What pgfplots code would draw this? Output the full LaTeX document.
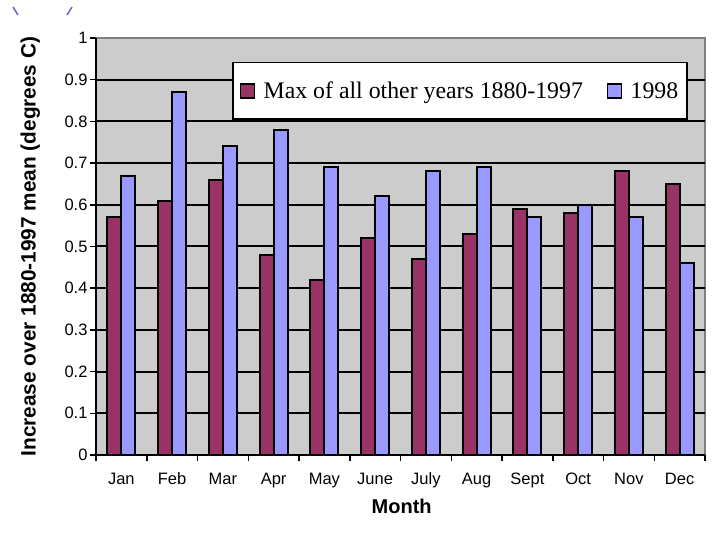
\documentclass[border=0pt]{standalone}
\usepackage{pgfplots}
\pgfplotsset{compat=1.18}
\usepackage{fontspec}
\setmainfont{Liberation Sans}
\newfontfamily\seriffont{Liberation Serif}
\definecolor{maroon}{HTML}{993366}
\definecolor{lblue}{HTML}{9999FF}
\definecolor{plotgray}{HTML}{CCCCCC}
\definecolor{deco}{HTML}{6666CC}
\begin{document}
\begin{tikzpicture}[x=1pt,y=1pt]
\useasboundingbox (0,0) rectangle (720,540);
\draw[deco, line width=1.5pt] (13,533) -- (18,525);
\draw[deco, line width=1.5pt] (72,533) -- (67,525);
\begin{axis}[
  at={(96pt,85pt)}, anchor=south west,
  scale only axis, width=609pt, height=417pt,
  xmin=0.5, xmax=12.5, ymin=0, ymax=1,
  ybar, bar width=14pt,
  axis background/.style={fill=plotgray, draw=gray, line width=1.2pt},
  axis x line*=bottom, axis y line*=left,
  axis line style={black, line width=1.6pt},
  tick align=outside,
  xtick={1,...,12},
  xticklabels={Jan,Feb,Mar,Apr,May,June,July,Aug,Sept,Oct,Nov,Dec},
  major x tick style={draw=none},
  minor xtick={0.5,1.5,...,12.5},
  minor tick length=6pt,
  minor x tick style={black, line width=1.5pt},
  ytick={0,0.1,...,0.91},
  extra y ticks={1},
  extra y tick style={grid=none},
  major tick length=6pt,
  major y tick style={black, line width=1.5pt},
  ymajorgrids,
  major grid style={black, line width=2pt},
  /pgf/number format/assume math mode=true,
  /pgf/number format/fixed,
  /pgf/number format/precision=1,
  tick label style={font=\fontsize{16.5}{16.5}\selectfont},
  xticklabel style={anchor=base, yshift=-24pt},
  yticklabel style={anchor=east, xshift=1pt},
  xlabel={Month},
  ylabel={Increase over 1880-1997 mean (degrees C)},
  every axis x label/.style={at={(axis description cs:0.502,-0.122)}, anchor=center, font=\bfseries\fontsize{20}{20}\selectfont},
  every axis y label/.style={at={(axis description cs:-0.108,0.5)}, anchor=center, rotate=90, font=\bfseries\fontsize{20.8}{21}\selectfont},
  legend columns=2,
  legend cell align=left,
  legend style={at={(rel axis cs:0.972,0.9425)}, anchor=north east,
    draw=black, line width=1.5pt, fill=white,
    inner xsep=7pt, inner ysep=17pt,
    font=\seriffont\fontsize{23.8}{24}\selectfont,
    /tikz/every even column/.append style={column sep=22pt}},
  legend image code/.code={\draw[#1, line width=1.4pt] (0pt,-7pt) rectangle (14pt,7pt); \path (20pt,0pt);},
]
\addplot[fill=maroon, draw=black, line width=2pt, bar shift=-7pt] coordinates {
 (1,0.57) (2,0.61) (3,0.66) (4,0.48) (5,0.42) (6,0.52)
 (7,0.47) (8,0.53) (9,0.59) (10,0.58) (11,0.68) (12,0.65)};
\addplot[fill=lblue, draw=black, line width=2pt, bar shift=7pt] coordinates {
 (1,0.67) (2,0.87) (3,0.74) (4,0.78) (5,0.69) (6,0.62)
 (7,0.68) (8,0.69) (9,0.57) (10,0.60) (11,0.57) (12,0.46)};
\legend{Max of all other years 1880-1997, 1998}
\end{axis}
\end{tikzpicture}
\end{document}
